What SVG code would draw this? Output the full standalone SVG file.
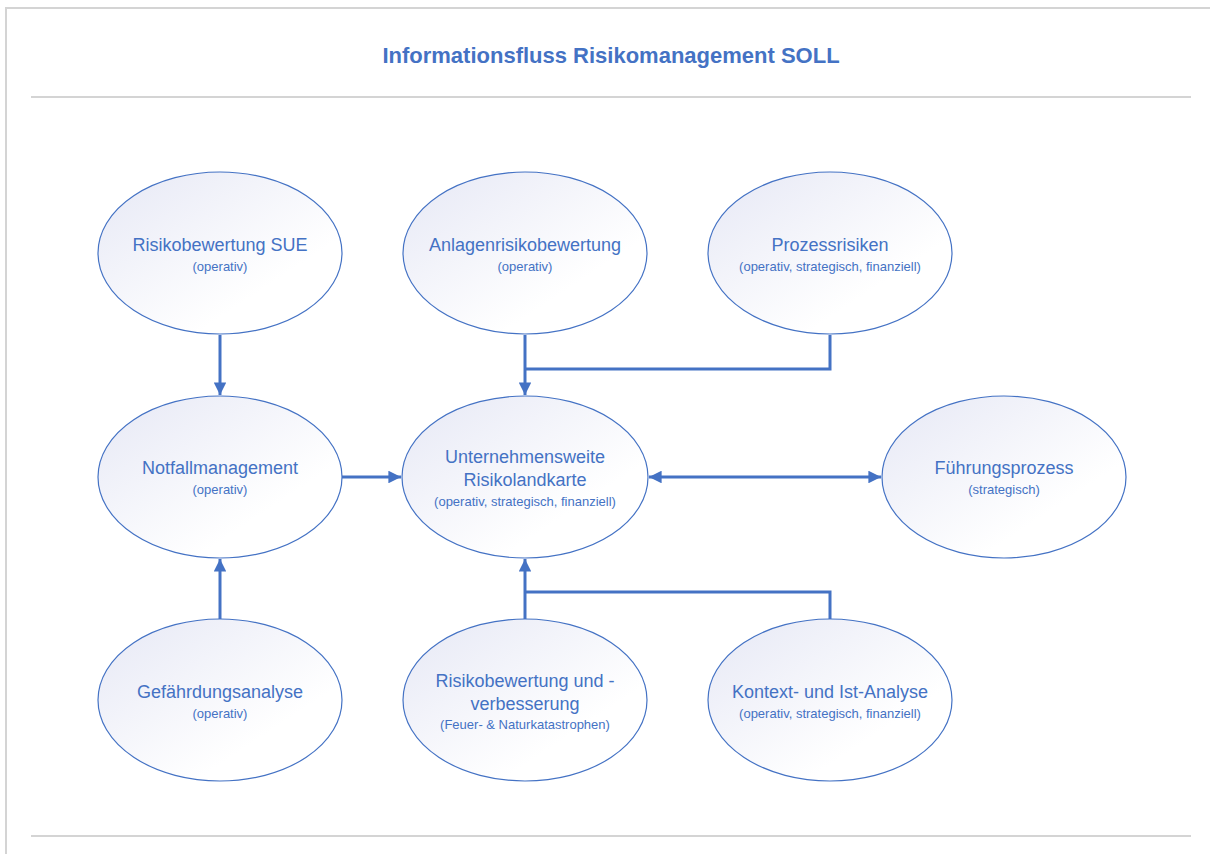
<svg xmlns="http://www.w3.org/2000/svg" width="1210" height="854" viewBox="0 0 1210 854">
<defs>
<linearGradient id="g" x1="0" y1="0" x2="1" y2="1">
<stop offset="0" stop-color="#e6e8f5"/>
<stop offset="0.7" stop-color="#ffffff"/>
<stop offset="1" stop-color="#ffffff"/>
</linearGradient>
<marker id="ah" viewBox="0 0 10 10" refX="10" refY="5" markerWidth="4.2" markerHeight="4.2" orient="auto-start-reverse" markerUnits="strokeWidth">
<path d="M0,0 L10,5 L0,10 z" fill="#4472c4"/>
</marker>
<style>
.n{fill:url(#g);stroke:#4472c4;stroke-width:1.2}
.t{font-family:"Liberation Sans",Arial,sans-serif;font-size:18px;fill:#4472c4;text-anchor:middle}
.s{font-family:"Liberation Sans",Arial,sans-serif;font-size:13px;fill:#4472c4;text-anchor:middle}
.c{fill:none;stroke:#4472c4;stroke-width:3}
.f{stroke:#d4d4d4;stroke-width:2;fill:none}
</style>
</defs>
<rect width="1210" height="854" fill="#ffffff"/>
<path class="f" d="M6,854 V8 H1210"/>
<line class="f" x1="31" y1="97" x2="1191" y2="97"/>
<line class="f" x1="31" y1="836" x2="1191" y2="836"/>
<text x="611" y="63" style="font-family:'Liberation Sans',Arial,sans-serif;font-size:22px;font-weight:bold;fill:#4472c4;text-anchor:middle">Informationsfluss Risikomanagement SOLL</text>

<g id="connectors">
<line class="c" x1="220" y1="335" x2="220" y2="395" marker-end="url(#ah)"/>
<line class="c" x1="525" y1="335" x2="525" y2="395" marker-end="url(#ah)"/>
<polyline class="c" points="830,335 830,369 525,369"/>
<line class="c" x1="342" y1="477" x2="401" y2="477" marker-end="url(#ah)"/>
<line class="c" x1="649" y1="477" x2="881" y2="477" marker-start="url(#ah)" marker-end="url(#ah)"/>
<line class="c" x1="220" y1="619" x2="220" y2="559" marker-end="url(#ah)"/>
<line class="c" x1="525" y1="619" x2="525" y2="559" marker-end="url(#ah)"/>
<polyline class="c" points="830,619 830,592 525,592"/>
</g>

<g id="n-sue">
<ellipse class="n" cx="220" cy="253" rx="122" ry="81"/>
<text class="t" x="220" y="251">Risikobewertung SUE</text>
<text class="s" x="220" y="271">(operativ)</text>
</g>
<g id="n-anlagen">
<ellipse class="n" cx="525" cy="253" rx="122" ry="81"/>
<text class="t" x="525" y="251">Anlagenrisikobewertung</text>
<text class="s" x="525" y="271">(operativ)</text>
</g>
<g id="n-prozess">
<ellipse class="n" cx="830" cy="253" rx="122" ry="81"/>
<text class="t" x="830" y="251">Prozessrisiken</text>
<text class="s" x="830" y="271">(operativ, strategisch, finanziell)</text>
</g>
<g id="n-notfall">
<ellipse class="n" cx="220" cy="477" rx="122" ry="81"/>
<text class="t" x="220" y="474">Notfallmanagement</text>
<text class="s" x="220" y="494">(operativ)</text>
</g>
<g id="n-karte">
<ellipse class="n" cx="525" cy="477" rx="123" ry="81"/>
<text class="t" x="525" y="463">Unternehmensweite</text>
<text class="t" x="525" y="486">Risikolandkarte</text>
<text class="s" x="525" y="506">(operativ, strategisch, finanziell)</text>
</g>
<g id="n-fuehrung">
<ellipse class="n" cx="1004" cy="477" rx="122" ry="81"/>
<text class="t" x="1004" y="474">Führungsprozess</text>
<text class="s" x="1004" y="494">(strategisch)</text>
</g>
<g id="n-gefaehrdung">
<ellipse class="n" cx="220" cy="700" rx="122" ry="81"/>
<text class="t" x="220" y="698">Gefährdungsanalyse</text>
<text class="s" x="220" y="718">(operativ)</text>
</g>
<g id="n-risikobewertung">
<ellipse class="n" cx="525" cy="700" rx="122" ry="81"/>
<text class="t" x="525" y="687">Risikobewertung und -</text>
<text class="t" x="525" y="710">verbesserung</text>
<text class="s" x="525" y="729">(Feuer- &amp; Naturkatastrophen)</text>
</g>
<g id="n-kontext">
<ellipse class="n" cx="830" cy="700" rx="122" ry="81"/>
<text class="t" x="830" y="698">Kontext- und Ist-Analyse</text>
<text class="s" x="830" y="718">(operativ, strategisch, finanziell)</text>
</g>
</svg>
